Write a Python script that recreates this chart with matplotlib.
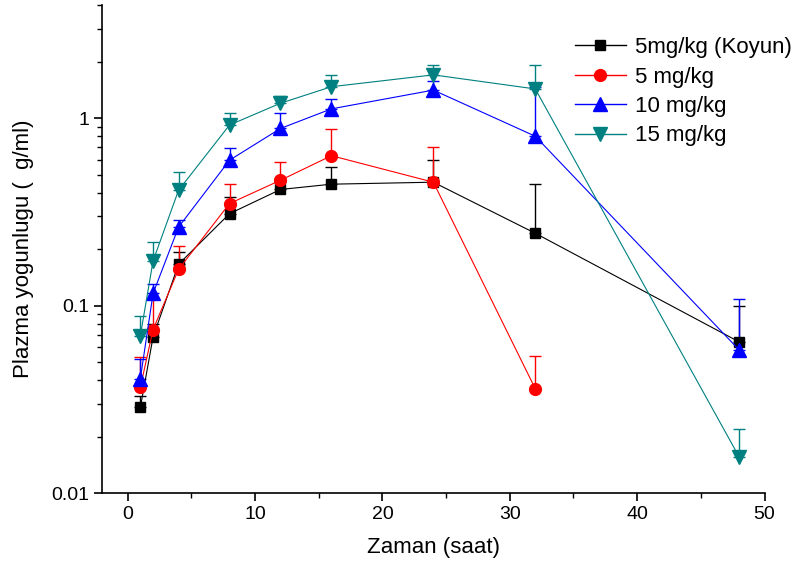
import numpy as np
import matplotlib.pyplot as plt
from matplotlib.lines import Line2D
from matplotlib.ticker import LogLocator, FixedLocator, NullFormatter

plt.rcParams['font.family'] = ['Liberation Sans', 'DejaVu Sans']

# zaman (saat)
t_koyun = [1, 2, 4, 8, 12, 16, 24, 32, 48]
koyun = [0.0286, 0.068, 0.166, 0.309, 0.416, 0.444, 0.455, 0.243, 0.064]
koyun_err = [0.0044, 0.012, 0.027, 0.071, 0.04, 0.102, 0.145, 0.203, 0.035]

t_5 = [1, 2, 4, 8, 12, 16, 24, 32]
mg5 = [0.0366, 0.0745, 0.156, 0.35, 0.466, 0.63, 0.455, 0.036]
mg5_err = [0.0164, 0.0345, 0.053, 0.094, 0.118, 0.247, 0.245, 0.018]

t_10 = [1, 2, 4, 8, 12, 16, 24, 32, 48]
mg10 = [0.0407, 0.116, 0.262, 0.596, 0.88, 1.12, 1.41, 0.80, 0.058]
mg10_err = [0.0113, 0.014, 0.023, 0.093, 0.18, 0.14, 0.17, 0.67, 0.051]

t_15 = [1, 2, 4, 8, 12, 16, 24, 32, 48]
mg15 = [0.069, 0.173, 0.412, 0.918, 1.2, 1.47, 1.70, 1.43, 0.0156]
mg15_err = [0.0195, 0.045, 0.104, 0.149, 0.11, 0.22, 0.23, 0.48, 0.0063]

series = [
    (t_koyun, koyun, koyun_err, 'black', 's', 7, '5mg/kg (Koyun)'),
    (t_5, mg5, mg5_err, 'red', 'o', 8.5, '5 mg/kg'),
    (t_10, mg10, mg10_err, 'blue', '^', 9.5, '10 mg/kg'),
    (t_15, mg15, mg15_err, '#008080', 'v', 9.5, '15 mg/kg'),
]

fig = plt.figure(figsize=(8.04, 5.78), dpi=100)
ax = fig.add_axes([0.127, 0.147, 0.824, 0.844])

handles = []
for t, y, e, c, m, ms, lab in series:
    err = np.array([np.zeros(len(e)), e])
    ax.errorbar(t, y, yerr=err, color=c, marker=m, markersize=ms, linewidth=0.8,
                ecolor=c, elinewidth=1.0, capsize=4, capthick=1.0)
    handles.append(Line2D([], [], color=c, marker=m, markersize=ms,
                          linewidth=1.0, label=lab))

ax.set_yscale('log')
ax.set_xlim(-2, 50)
ax.set_ylim(0.01, 4)

ax.spines['top'].set_visible(False)
ax.spines['right'].set_visible(False)
ax.spines['left'].set_linewidth(1.2)
ax.spines['bottom'].set_linewidth(1.2)

ax.xaxis.set_major_locator(FixedLocator([0, 10, 20, 30, 40, 50]))
ax.xaxis.set_minor_locator(FixedLocator([5, 15, 25, 35, 45]))
ax.yaxis.set_minor_locator(LogLocator(base=10, subs=np.arange(2, 10)))
ax.yaxis.set_minor_formatter(NullFormatter())
ax.set_yticks([0.01, 0.1, 1])
ax.set_yticklabels(['0.01', '0.1', '1'])

ax.tick_params(which='major', direction='out', length=6, width=1.2, labelsize=14)
ax.tick_params(which='minor', direction='out', length=3.5, width=1.0)

ax.set_xlabel('Zaman (saat)', fontsize=16, labelpad=10)
ax.set_ylabel('Plazma yogunlugu (  g/ml)', fontsize=16, labelpad=12)

ax.legend(handles=handles, loc='upper right', bbox_to_anchor=(1.061, 0.962),
          frameon=False, fontsize=16, handlelength=2.3, labelspacing=0.38,
          handletextpad=0.4, borderaxespad=0.2)

fig.savefig('out.png', dpi=100)
